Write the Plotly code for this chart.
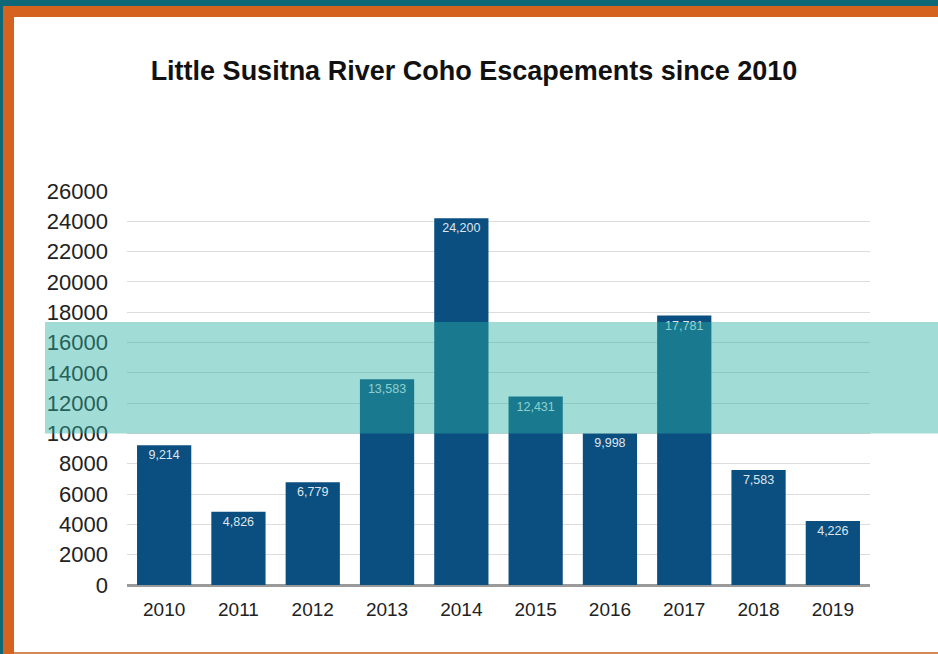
import plotly.graph_objects as go

years = ["2010", "2011", "2012", "2013", "2014", "2015", "2016", "2017", "2018", "2019"]
escapement = [9214, 4826, 6779, 13583, 24200, 12431, 9998, 17781, 7583, 4226]
goal_low = 10000
goal_high = 17350
y_ticks = list(range(0, 26001, 2000))

W, H = 938, 654
L, R, T, B = 127, 68, 191, 69
pw, ph = W - L - R, H - T - B

def px(x):
    return (x - L) / pw

def py(y):
    return (H - B - y) / ph

FONT = "Liberation Sans, Arial, Helvetica, sans-serif"

fig = go.Figure()
fig.add_trace(go.Bar(
    x=years, y=escapement,
    marker=dict(color="#0b4f80", line=dict(width=0)),
    text=[f"{v:,}" for v in escapement],
    textposition="inside", insidetextanchor="end", textangle=0,
    textfont=dict(family=FONT, size=12.5, color="#dfe6ee"),
    hoverinfo="x+y",
))

shapes = [
    # goal band
    dict(type="rect", xref="paper", yref="y", x0=px(45), x1=px(945), y0=goal_low, y1=goal_high,
         fillcolor="rgb(40,176,162)", opacity=0.44, line=dict(width=0), layer="above"),
    # frame decorations
    dict(type="rect", xref="paper", yref="paper", x0=px(-5), x1=px(945), y0=py(6), y1=py(-5),
         fillcolor="#0f6878", line=dict(width=0), layer="above"),
    dict(type="rect", xref="paper", yref="paper", x0=px(-5), x1=px(945), y0=py(17), y1=py(6),
         fillcolor="#d5621e", line=dict(width=0), layer="above"),
    dict(type="rect", xref="paper", yref="paper", x0=px(-5), x1=px(3), y0=py(660), y1=py(6),
         fillcolor="#0f6878", line=dict(width=0), layer="above"),
    dict(type="rect", xref="paper", yref="paper", x0=px(3), x1=px(14), y0=py(660), y1=py(6),
         fillcolor="#d5621e", line=dict(width=0), layer="above"),
    dict(type="rect", xref="paper", yref="paper", x0=px(14), x1=px(945), y0=py(660), y1=py(652),
         fillcolor="#d5885a", line=dict(width=0), layer="above"),
]

fig.update_layout(
    width=W, height=H,
    margin=dict(l=L, r=R, t=T, b=B, pad=0),
    paper_bgcolor="white", plot_bgcolor="white",
    showlegend=False,
    bargap=0.27,
    title=dict(text="<b>Little Susitna River Coho Escapements since 2010</b>",
               x=474 / W, xanchor="center", y=1 - 71 / H, yanchor="middle",
               xref="container", yref="container",
               font=dict(family=FONT, size=27, color="#111111")),
    shapes=shapes,
    xaxis=dict(
        type="category", categoryorder="array", categoryarray=years,
        tickfont=dict(family=FONT, size=19, color="#222222"),
        showgrid=False, showline=False, ticks="", ticklabelstandoff=11,
    ),
    yaxis=dict(
        range=[0, 26000], tickvals=y_ticks, ticktext=[str(v) for v in y_ticks],
        tickfont=dict(family=FONT, size=22, color="#222222"),
        showgrid=True, gridcolor="#dcdcdc", gridwidth=1,
        zeroline=True, zerolinecolor="#9a9a9a", zerolinewidth=3,
        showline=False, ticks="", ticklabelstandoff=18,
    ),
)

fig.write_html("out.html", config={"displayModeBar": False},
               post_script="document.body.style.margin='0';document.body.style.overflow='hidden';")
